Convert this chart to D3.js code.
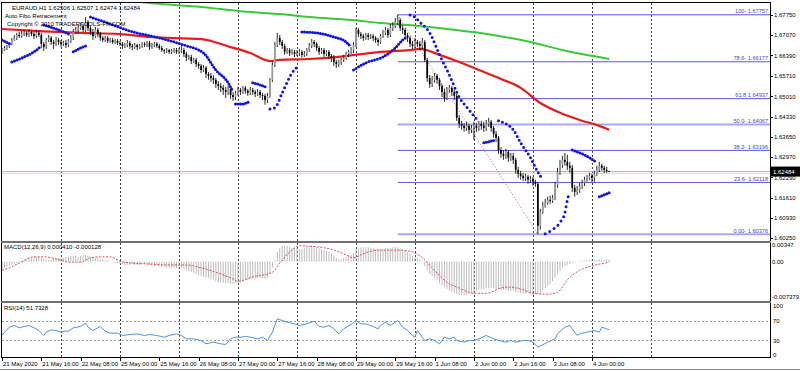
<!DOCTYPE html>
<html><head><meta charset="utf-8">
<script src="https://cdn.jsdelivr.net/npm/d3@7"></script>
<style>
body{margin:0;background:#fff;overflow:hidden}
svg{display:block}
text{font-family:"Liberation Sans",Arial,sans-serif}
</style>
</head><body>
<svg id="c" width="800" height="371"></svg>
<script>
// ---------------- DATA ----------------
const headerLines = ["EURAUD,H1  1.62506 1.62507 1.62474 1.62484", "Auto Fibo Retracement", "Copyright \u00a9 2010 TRADERTOOLS-FX.COM"];
const macdTitle = "MACD(12,26,9) 0.000410 -0.000128";
const rsiTitle = "RSI(14) 51.7328";
const firstOpen = 1.6651;
const closes = [
1.6657,1.6664,1.6667,1.6678,1.6691,1.6698,1.6708,1.6704,
1.6711,1.6715,1.6708,1.6718,1.6711,1.6704,1.6715,1.6708,
1.6678,1.6667,1.6691,1.6698,1.6684,1.6678,1.6691,1.6684,
1.6678,1.6681,1.6674,1.6688,1.6698,1.6718,1.6725,1.6731,
1.6738,1.6725,1.6751,1.6731,1.6718,1.6704,1.6725,1.6711,
1.6698,1.6691,1.6698,1.6688,1.6691,1.6684,1.6688,1.6681,
1.6678,1.6671,1.6674,1.6681,1.6671,1.6667,1.6674,1.6667,
1.6671,1.6678,1.6674,1.6681,1.6667,1.6674,1.6678,1.6671,
1.6664,1.6657,1.6654,1.6657,1.6651,1.6654,1.6657,1.6651,
1.6654,1.6657,1.6644,1.6631,1.6634,1.6620,1.6624,1.6610,
1.6604,1.6590,1.6597,1.6577,1.6570,1.6563,1.6557,1.6543,
1.6536,1.6530,1.6523,1.6516,1.6526,1.6506,1.6499,1.6510,
1.6523,1.6516,1.6530,1.6520,1.6513,1.6523,1.6516,1.6510,
1.6516,1.6506,1.6503,1.6489,1.6503,1.6557,1.6607,1.6674,
1.6698,1.6684,1.6671,1.6651,1.6657,1.6647,1.6651,1.6644,
1.6647,1.6651,1.6641,1.6644,1.6657,1.6671,1.6684,1.6678,
1.6664,1.6651,1.6657,1.6644,1.6651,1.6637,1.6631,1.6617,
1.6610,1.6617,1.6624,1.6631,1.6644,1.6651,1.6657,1.6674,
1.6725,1.6711,1.6704,1.6698,1.6708,1.6701,1.6704,1.6698,
1.6691,1.6684,1.6704,1.6715,1.6725,1.6708,1.6731,1.6738,
1.6751,1.6758,1.6731,1.6725,1.6708,1.6698,1.6678,1.6671,
1.6684,1.6678,1.6671,1.6684,1.6624,1.6563,1.6543,1.6557,
1.6570,1.6557,1.6536,1.6516,1.6496,1.6523,1.6530,1.6516,
1.6503,1.6429,1.6409,1.6402,1.6395,1.6402,1.6389,1.6395,
1.6402,1.6395,1.6409,1.6402,1.6395,1.6409,1.6416,1.6395,
1.6375,1.6362,1.6321,1.6308,1.6301,1.6315,1.6295,1.6301,
1.6288,1.6254,1.6241,1.6234,1.6227,1.6231,1.6221,1.6224,
1.6214,1.6207,1.6066,1.6113,1.6133,1.6143,1.6153,1.6150,
1.6160,1.6204,1.6247,1.6271,1.6288,1.6281,1.6268,1.6261,
1.6194,1.6180,1.6187,1.6200,1.6211,1.6221,1.6227,1.6234,
1.6227,1.6241,1.6254,1.6268,1.6261,1.6254,1.62506,1.62484];
const highs = [
1.6664,1.6671,1.6674,1.6684,1.6698,1.6708,1.6715,1.6718,
1.6721,1.6725,1.6721,1.6728,1.6725,1.6718,1.6725,1.6721,
1.6715,1.6684,1.6698,1.6708,1.6704,1.6691,1.6701,1.6698,
1.6691,1.6688,1.6691,1.6694,1.6708,1.6728,1.6735,1.6741,
1.6748,1.6745,1.6768,1.6758,1.6738,1.6728,1.6735,1.6731,
1.6718,1.6704,1.6704,1.6704,1.6698,1.6698,1.6694,1.6694,
1.6688,1.6684,1.6681,1.6691,1.6688,1.6678,1.6681,1.6678,
1.6678,1.6684,1.6684,1.6688,1.6688,1.6681,1.6684,1.6684,
1.6678,1.6671,1.6661,1.6664,1.6661,1.6661,1.6664,1.6664,
1.6664,1.6678,1.6664,1.6651,1.6641,1.6641,1.6631,1.6631,
1.6617,1.6610,1.6607,1.6604,1.6583,1.6580,1.6573,1.6563,
1.6553,1.6547,1.6540,1.6533,1.6536,1.6533,1.6516,1.6520,
1.6533,1.6530,1.6536,1.6536,1.6526,1.6533,1.6530,1.6523,
1.6526,1.6523,1.6513,1.6510,1.6513,1.6563,1.6617,1.6684,
1.6715,1.6708,1.6691,1.6678,1.6664,1.6664,1.6661,1.6657,
1.6657,1.6661,1.6657,1.6654,1.6664,1.6681,1.6694,1.6691,
1.6684,1.6671,1.6664,1.6664,1.6657,1.6657,1.6644,1.6641,
1.6624,1.6624,1.6631,1.6641,1.6651,1.6657,1.6667,1.6684,
1.6731,1.6731,1.6718,1.6711,1.6715,1.6715,1.6711,1.6711,
1.6704,1.6698,1.6711,1.6725,1.6735,1.6731,1.6745,1.6751,
1.6765,1.67757,1.6765,1.6741,1.6731,1.6715,1.6704,1.6688,
1.6698,1.6691,1.6688,1.6698,1.6691,1.6631,1.6573,1.6570,
1.6580,1.6577,1.6563,1.6543,1.6526,1.6533,1.6540,1.6536,
1.6523,1.6510,1.6439,1.6419,1.6412,1.6416,1.6409,1.6405,
1.6416,1.6412,1.6419,1.6419,1.6416,1.6422,1.6429,1.6422,
1.6402,1.6385,1.6368,1.6331,1.6321,1.6325,1.6321,1.6311,
1.6311,1.6295,1.6264,1.6251,1.6244,1.6241,1.6237,1.6234,
1.6231,1.6221,1.6214,1.6123,1.6147,1.6157,1.6164,1.6167,
1.6170,1.6214,1.6261,1.6288,1.6301,1.6311,1.6305,1.6281,
1.6271,1.6204,1.6200,1.6211,1.6221,1.6231,1.6237,1.6244,
1.6241,1.6251,1.6268,1.6281,1.6274,1.6268,1.6264,1.62507];
const lows = [
1.6644,1.6654,1.6657,1.6664,1.6674,1.6688,1.6691,1.6698,
1.6698,1.6704,1.6701,1.6701,1.6704,1.6694,1.6698,1.6701,
1.6664,1.6654,1.6661,1.6684,1.6674,1.6661,1.6671,1.6674,
1.6667,1.6671,1.6664,1.6667,1.6681,1.6691,1.6711,1.6715,
1.6725,1.6718,1.6718,1.6721,1.6708,1.6691,1.6698,1.6701,
1.6688,1.6684,1.6684,1.6681,1.6681,1.6678,1.6678,1.6674,
1.6671,1.6661,1.6664,1.6667,1.6661,1.6657,1.6661,1.6657,
1.6661,1.6664,1.6667,1.6667,1.6657,1.6661,1.6667,1.6664,
1.6657,1.6651,1.6644,1.6647,1.6644,1.6644,1.6647,1.6644,
1.6644,1.6647,1.6634,1.6620,1.6624,1.6610,1.6614,1.6600,
1.6594,1.6580,1.6583,1.6563,1.6557,1.6550,1.6543,1.6530,
1.6523,1.6516,1.6506,1.6496,1.6506,1.6493,1.6486,1.6489,
1.6503,1.6506,1.6510,1.6510,1.6503,1.6506,1.6506,1.6499,
1.6503,1.6496,1.6489,1.6473,1.6479,1.6496,1.6550,1.6600,
1.6667,1.6674,1.6661,1.6641,1.6644,1.6637,1.6641,1.6634,
1.6637,1.6637,1.6631,1.6634,1.6637,1.6651,1.6664,1.6667,
1.6654,1.6641,1.6644,1.6634,1.6637,1.6627,1.6617,1.6604,
1.6597,1.6600,1.6607,1.6617,1.6624,1.6634,1.6644,1.6647,
1.6667,1.6701,1.6694,1.6688,1.6691,1.6691,1.6694,1.6688,
1.6681,1.6671,1.6678,1.6698,1.6708,1.6698,1.6701,1.6721,
1.6731,1.6741,1.6721,1.6711,1.6698,1.6684,1.6667,1.6661,
1.6664,1.6667,1.6657,1.6661,1.6617,1.6550,1.6530,1.6533,
1.6547,1.6543,1.6523,1.6499,1.6483,1.6489,1.6513,1.6503,
1.6489,1.6419,1.6395,1.6389,1.6382,1.6385,1.6375,1.6378,
1.6355,1.6382,1.6385,1.6389,1.6382,1.6385,1.6399,1.6382,
1.6362,1.6348,1.6308,1.6295,1.6288,1.6291,1.6281,1.6284,
1.6274,1.6241,1.6227,1.6221,1.6217,1.6217,1.6207,1.6211,
1.6200,1.6197,1.60376,1.6053,1.6106,1.6127,1.6137,1.6140,
1.6143,1.6153,1.6194,1.6237,1.6261,1.6268,1.6254,1.6244,
1.6180,1.6164,1.6170,1.6177,1.6190,1.6200,1.6214,1.6221,
1.6214,1.6214,1.6234,1.6247,1.6251,1.6244,1.6244,1.62474];

const maRedIdx = [0,15,32,48,60,81,93,101,109,113,125,137,154,166,170,178,186,194,203,211,219,227,235,243,247];
const maRedVal = [1.6728,1.6721,1.6715,1.6711,1.6701,1.6694,1.6667,1.6647,1.6620,1.6624,1.6627,1.6634,1.6651,1.6657,1.6661,1.6641,1.6617,1.6590,1.6560,1.6530,1.6479,1.6446,1.6422,1.6402,1.6389];
const maGreenIdx = [40,60,81,97,113,125,142,154,174,194,215,228,247];
const maGreenVal = [1.6836,1.6815,1.6802,1.6788,1.6778,1.6768,1.6758,1.6748,1.6735,1.6715,1.6684,1.6657,1.6627];

const sarSegments = [
 [[0,1.6691],[3,1.6678]],
 [[4,1.6617],[9,1.6634],[13,1.6651],[16,1.6671]],
 [[17,1.6741],[22,1.6728],[28,1.6708]],
 [[29,1.6651],[32,1.6664],[35,1.6674]],
 [[36,1.6768],[44,1.6745],[52,1.6721],[64,1.6698],[74,1.6674],[82,1.6647],[87,1.6590],[92,1.6547],[94,1.6516]],
 [[95,1.6476],[98,1.6476],[101,1.6486]],
 [[102,1.6547],[105,1.6540],[108,1.6530]],
 [[109,1.6459],[111,1.6463],[114,1.6513],[118,1.6580],[121,1.6607]],
 [[122,1.6718],[128,1.6715],[135,1.6701],[140,1.6684],[142,1.6667]],
 [[143,1.6590],[148,1.6614],[155,1.6634],[160,1.6664],[163,1.6691],[165,1.6701]],
 [[166,1.6775],[168,1.6768],[170,1.6751],[174,1.6715],[178,1.6641],[182,1.6573],[186,1.6499],[190,1.6456],[194,1.6416]],
 [[196,1.6345],[201,1.6355]],
 [[202,1.6419],[205,1.6409],[208,1.6389],[211,1.6345],[215,1.6295],[218,1.6247],[220,1.6221]],
 [[221,1.6039],[224,1.6053],[227,1.6077],[229,1.6110],[230,1.6153],[231,1.6180]],
 [[232,1.6321],[236,1.6308],[239,1.6295],[242,1.6278]],
 [[243,1.6164],[245,1.6170],[247,1.6177]]
];

const fiboStartIdx = 161, fiboEndIdx = 218;
const fiboPrices = [1.67757,1.66177,1.64937,1.64067,1.63196,1.62118,1.60376];
const fiboLabels = ["100- 1.67757","78.6- 1.66177","61.8 1.64937","50.0- 1.64067","38.2- 1.63196","23.6- 1.62118","0.00- 1.60376"];
const fiboMajor = [false,false,false,true,false,false,true];
const lastPrice = 1.62484;

const priceTicks = [1.67750,1.67070,1.66390,1.65710,1.65010,1.64330,1.63650,1.62970,1.62290,1.61610,1.60930,1.60250];
const priceTickLabels = ["1.67750","1.67070","1.66390","1.65710","1.65010","1.64330","1.63650","1.62970","1.62290","1.61610","1.60930","1.60250"];

const macdHist = [
-0.0015,-0.0013,-0.0011,-0.0009,-0.0007,-0.0005,-0.0003,-0.0001,
0.0001,0.0003,0.0005,0.0008,0.0008,0.0010,0.0010,0.0010,
0.0008,0.0005,0.0005,0.0003,0.0005,0.0008,0.0008,0.0008,
0.0008,0.0008,0.0010,0.0010,0.0012,0.0012,0.0012,0.0010,
0.0012,0.0014,0.0014,0.0012,0.0010,0.0010,0.0008,0.0008,
0.0005,0.0005,0.0003,0.0003,0.0001,-0.0001,-0.0003,-0.0003,
-0.0005,-0.0005,-0.0007,-0.0007,-0.0007,-0.0005,-0.0007,-0.0007,
-0.0007,-0.0005,-0.0005,-0.0007,-0.0007,-0.0009,-0.0009,-0.0009,
-0.0009,-0.0011,-0.0011,-0.0013,-0.0013,-0.0013,-0.0013,-0.0013,
-0.0013,-0.0013,-0.0015,-0.0018,-0.0020,-0.0022,-0.0024,-0.0026,
-0.0028,-0.0030,-0.0032,-0.0034,-0.0034,-0.0036,-0.0038,-0.0041,
-0.0043,-0.0043,-0.0045,-0.0045,-0.0045,-0.0047,-0.0047,-0.0045,
-0.0045,-0.0043,-0.0041,-0.0038,-0.0038,-0.0036,-0.0036,-0.0036,
-0.0034,-0.0034,-0.0034,-0.0036,-0.0034,-0.0026,-0.0013,0.0003,
0.0020,0.0028,0.0033,0.0033,0.0033,0.0030,0.0028,0.0028,
0.0028,0.0026,0.0026,0.0028,0.0030,0.0033,0.0033,0.0033,
0.0030,0.0028,0.0026,0.0024,0.0022,0.0020,0.0016,0.0012,
0.0008,0.0005,0.0005,0.0008,0.0010,0.0012,0.0014,0.0018,
0.0026,0.0028,0.0030,0.0030,0.0030,0.0030,0.0028,0.0028,
0.0026,0.0026,0.0026,0.0026,0.0028,0.0028,0.0028,0.0030,
0.0030,0.0030,0.0028,0.0026,0.0024,0.0020,0.0016,0.0012,
0.0010,0.0008,0.0005,-0.0001,-0.0009,-0.0018,-0.0026,-0.0030,
-0.0034,-0.0038,-0.0045,-0.0049,-0.0053,-0.0057,-0.0061,-0.0064,
-0.0066,-0.0068,-0.0070,-0.0070,-0.0070,-0.0070,-0.0068,-0.0066,
-0.0064,-0.0061,-0.0059,-0.0057,-0.0057,-0.0055,-0.0055,-0.0055,
-0.0055,-0.0057,-0.0057,-0.0059,-0.0059,-0.0059,-0.0061,-0.0061,
-0.0061,-0.0064,-0.0064,-0.0066,-0.0066,-0.0066,-0.0066,-0.0068,
-0.0068,-0.0068,-0.0068,-0.0064,-0.0059,-0.0055,-0.0051,-0.0047,
-0.0041,-0.0034,-0.0026,-0.0020,-0.0013,-0.0009,-0.0007,-0.0005,
-0.0003,-0.0001,0.0000,0.0001,0.0002,0.0002,0.0003,0.0003,
0.0003,0.0004,0.0004,0.0004,0.0004,0.0004,0.0004,0.00041];
const signalIdx = [0,3,7,13,17,24,27,32,36,40,44,48,53,60,67,75,81,88,94,96,102,110,113,117,121,128,135,140,143,146,153,162,167,171,175,181,186,192,197,203,206,211,216,222,226,230,235,240,247];
const signalVal = [-0.0018,-0.0013,-0.0003,0.0010,0.0010,0.0003,-0.0001,-0.0001,0.0008,0.0010,0.0010,0.0001,-0.0003,-0.0005,-0.0007,-0.0007,-0.0013,-0.0024,-0.0036,-0.0041,-0.0032,-0.0022,-0.0003,0.0020,0.0033,0.0031,0.0024,0.0014,0.0008,0.0014,0.0024,0.0024,0.0020,0.0008,-0.0013,-0.0043,-0.0055,-0.0066,-0.0066,-0.0055,-0.0053,-0.0057,-0.0066,-0.0068,-0.0064,-0.0038,-0.0018,-0.0009,-0.00013];
const macdTicks = [0.00347,0,-0.007379];
const macdTickLabels = ["0.00347","0.00","-0.007379"];

const rsiIdx = [0,1,3,5,7,9,11,13,15,17,18,20,22,24,25,27,29,32,34,35,37,39,40,42,44,47,49,52,55,58,60,63,66,68,71,73,75,78,81,83,86,89,91,93,95,97,99,101,104,106,108,110,112,114,116,119,121,124,127,129,131,133,135,137,139,142,144,146,148,151,153,154,156,158,161,163,165,167,168,169,171,172,174,176,178,180,182,184,185,188,190,192,194,197,200,202,205,207,209,212,214,216,218,222,225,226,229,231,232,234,235,238,241,243,244,246,247];
const rsiVal = [39.8,46.6,56.8,60.2,55.4,58.2,60.2,55.4,50.0,39.8,46.6,51.3,50.0,46.6,48.6,48.6,55.4,58.2,64.9,56.8,50.0,55.4,58.2,48.6,44.6,44.6,39.8,41.8,43.2,39.8,41.8,39.8,36.4,39.8,43.2,39.8,33.0,33.0,29.6,22.8,26.2,22.8,21.4,33.0,36.4,36.4,37.8,36.4,33.0,36.4,29.6,46.6,73.8,70.4,67.0,63.6,60.2,63.6,69.0,58.2,56.8,60.2,53.4,43.2,53.4,62.2,70.4,63.6,63.6,58.2,53.4,60.2,67.0,60.2,70.4,56.8,50.0,39.8,36.4,50.0,36.4,29.6,33.0,29.6,22.8,36.4,33.0,36.4,29.6,26.2,29.6,29.6,33.0,39.8,33.0,29.6,26.2,29.6,26.2,29.6,29.6,26.2,16.0,26.2,33.0,43.2,56.8,60.2,53.4,39.8,43.2,46.6,50.0,46.6,56.8,53.4,51.7328];
const rsiLevels = [70,30];
const rsiTicks = [100,70,30,0];

const timeLabelIdx = [0,16,32,48,64,80,96,112,128,144,160,176,192,208,224,240];
const timeLabels = ["21 May 2020","21 May 16:00","22 May 08:00","25 May 00:00","25 May 16:00","26 May 08:00","27 May 00:00","27 May 16:00","28 May 08:00","29 May 00:00","29 May 16:00","1 Jun 08:00","2 Jun 00:00","2 Jun 16:00","3 Jun 08:00","4 Jun 00:00"];
const dayBreakIdx = [24,48,72,96,120,144,168,192,216,240,264];

// ---------------- DRAW ----------------
const svg = d3.select("#c");
const AX = 770; // right axis
const x = d3.scaleLinear().domain([0,264]).range([2, 2 + 264*2.458]);
const yP = d3.scaleLinear().domain([1.6025,1.6775]).range([238,15]);
const yM = d3.scaleLinear().domain([-0.007379,0.00347]).range([297,245]);
const yR = d3.scaleLinear().domain([0,100]).range([355,306]);

svg.append("rect").attr("width",800).attr("height",371).attr("fill","#fff");
const defs = svg.append("defs");
function clip(id,y0,y1){ defs.append("clipPath").attr("id",id).append("rect").attr("x",2).attr("y",y0).attr("width",AX-2).attr("height",y1-y0); }
clip("cm",3,240.5); clip("cd",243,300.5); clip("cr",303,356.5);

// grid (day separators)
svg.append("g").selectAll("line").data(dayBreakIdx).join("line")
  .attr("x1",d=>Math.round(x(d))+0.5).attr("x2",d=>Math.round(x(d))+0.5)
  .attr("y1",3).attr("y2",357).attr("stroke","#444").attr("stroke-width",1)
  .attr("stroke-dasharray","2,2").attr("shape-rendering","crispEdges");

// ---- main panel
const gm = svg.append("g").attr("clip-path","url(#cm)");
// fibo levels
fiboPrices.forEach((p,k)=>{
  gm.append("line").attr("x1",x(fiboStartIdx)).attr("x2",AX).attr("y1",yP(p)).attr("y2",yP(p))
    .attr("stroke", fiboMajor[k] ? "#a8a8f0" : "#5a5ad8").attr("stroke-width", fiboMajor[k]?2:1);
});
// price line
gm.append("line").attr("x1",2).attr("x2",AX).attr("y1",yP(lastPrice)).attr("y2",yP(lastPrice))
  .attr("stroke","#f0a080").attr("stroke-width",1);
gm.append("line").attr("x1",2).attr("x2",AX).attr("y1",yP(lastPrice)+2).attr("y2",yP(lastPrice)+2)
  .attr("stroke","#f8d0c0").attr("stroke-width",1);
// fibo diagonal
gm.append("line").attr("x1",x(fiboStartIdx)).attr("y1",yP(fiboPrices[0]))
  .attr("x2",x(fiboEndIdx)).attr("y2",yP(fiboPrices[6]))
  .attr("stroke","#d06060").attr("stroke-width",1).attr("stroke-dasharray","1,2");
// moving averages
const maLine = d3.line().x(d=>x(d[0])).y(d=>yP(d[1])).curve(d3.curveMonotoneX);
gm.append("path").attr("d",maLine(maGreenIdx.map((d,k)=>[d,maGreenVal[k]])))
  .attr("fill","none").attr("stroke","#3cc83c").attr("stroke-width",2);
gm.append("path").attr("d",maLine(maRedIdx.map((d,k)=>[d,maRedVal[k]])))
  .attr("fill","none").attr("stroke","#e81c1c").attr("stroke-width",2.2);
// candles
const bars = closes.map((c,i)=>({i, o: i===0?firstOpen:closes[i-1], h:highs[i], l:lows[i], c}));
const gc = gm.append("g");
gc.selectAll("line").data(bars).join("line")
  .attr("x1",d=>x(d.i)).attr("x2",d=>x(d.i)).attr("y1",d=>yP(d.h)).attr("y2",d=>yP(d.l))
  .attr("stroke","#111").attr("stroke-width",0.9);
gc.selectAll("rect").data(bars).join("rect")
  .attr("x",d=>x(d.i)-0.85).attr("width",1.7)
  .attr("y",d=>yP(Math.max(d.o,d.c)))
  .attr("height",d=>Math.max(0.8,Math.abs(yP(d.o)-yP(d.c))))
  .attr("fill",d=>d.c>=d.o?"#9a9a9a":"#000");
// parabolic SAR
const sarLine = d3.line().x(d=>x(d[0])).y(d=>yP(d[1])).curve(d3.curveMonotoneX);
sarSegments.forEach(seg=>{
  const p = gm.append("path").attr("d",sarLine(seg)).attr("fill","none")
    .attr("stroke","#1414e0").attr("stroke-width",3).attr("stroke-linecap","round");
  const len = p.node().getTotalLength();
  const n = Math.max(1, seg[seg.length-1][0]-seg[0][0]);
  p.attr("stroke-dasharray","0 "+(len/n).toFixed(3));
});
// fibo labels
fiboPrices.forEach((p,k)=>{
  gm.append("text").attr("x",768).attr("y",yP(p)-1.5).attr("text-anchor","end")
    .attr("font-size",5.6).attr("fill","#4646c8").text(fiboLabels[k]);
});

// ---- MACD panel
const gd = svg.append("g").attr("clip-path","url(#cd)");
gd.selectAll("line").data(macdHist).join("line")
  .attr("x1",(d,i)=>x(i)).attr("x2",(d,i)=>x(i)).attr("y1",yM(0)).attr("y2",d=>yM(d))
  .attr("stroke","#b4b4b4").attr("stroke-width",0.9);
gd.append("path").attr("d",d3.line().x(d=>x(d[0])).y(d=>yM(d[1])).curve(d3.curveMonotoneX)(signalIdx.map((d,k)=>[d,signalVal[k]])))
  .attr("fill","none").attr("stroke","#e05050").attr("stroke-width",1).attr("stroke-dasharray","2,1.5");

// ---- RSI panel
const gr = svg.append("g").attr("clip-path","url(#cr)");
rsiLevels.forEach(v=>{
  gr.append("line").attr("x1",2).attr("x2",AX).attr("y1",Math.round(yR(v))+0.5).attr("y2",Math.round(yR(v))+0.5)
    .attr("stroke","#a0a0a0").attr("stroke-dasharray","2,2").attr("shape-rendering","crispEdges");
});
gr.append("path").attr("d",d3.line().x(d=>x(d[0])).y(d=>yR(d[1]))(rsiIdx.map((d,k)=>[d,rsiVal[k]])))
  .attr("fill","none").attr("stroke","#4f92d8").attr("stroke-width",1);

// ---- frames
const fr = svg.append("g").attr("shape-rendering","crispEdges");
fr.append("line").attr("x1",1.5).attr("x2",1.5).attr("y1",2).attr("y2",357).attr("stroke","#000");
fr.append("line").attr("x1",1).attr("x2",AX+0.5).attr("y1",2.5).attr("y2",2.5).attr("stroke","#000");
fr.append("line").attr("x1",AX+0.5).attr("x2",AX+0.5).attr("y1",2).attr("y2",357.5).attr("stroke","#000");
fr.append("rect").attr("x",1).attr("y",240.5).attr("width",AX).attr("height",2).attr("fill","#707070");
fr.append("rect").attr("x",1).attr("y",300.5).attr("width",AX).attr("height",2).attr("fill","#707070");
fr.append("line").attr("x1",1).attr("x2",AX+0.5).attr("y1",357.5).attr("y2",357.5).attr("stroke","#000");
fr.append("line").attr("x1",0).attr("x2",800).attr("y1",369.5).attr("y2",369.5).attr("stroke","#888");

// ---- axes
const ax = svg.append("g").attr("font-size",6).attr("fill","#000");
priceTicks.forEach((p,k)=>{
  fr.append("line").attr("x1",AX).attr("x2",AX+3).attr("y1",Math.round(yP(p))+0.5).attr("y2",Math.round(yP(p))+0.5).attr("stroke","#000");
  ax.append("text").attr("x",AX+4).attr("y",yP(p)+2.2).text(priceTickLabels[k]);
});
macdTicks.forEach((v,k)=>{
  ax.append("text").attr("x",AX+2).attr("y",yM(v)+2.2).text(macdTickLabels[k]);
});
rsiTicks.forEach(v=>{
  ax.append("text").attr("x",AX+3).attr("y",yR(v)+2.2).text(String(v));
});
// last price box
svg.append("rect").attr("x",AX+1).attr("y",yP(lastPrice)-5).attr("width",29).attr("height",10).attr("fill","#000");
svg.append("text").attr("x",AX+3).attr("y",yP(lastPrice)+2.2).attr("font-size",6).attr("fill","#fff").text("1.62484");
// time axis
timeLabelIdx.forEach((d,k)=>{
  fr.append("line").attr("x1",Math.round(x(d))+0.5).attr("x2",Math.round(x(d))+0.5).attr("y1",357).attr("y2",361).attr("stroke","#000");
  ax.append("text").attr("x",x(d)+1).attr("y",366).text(timeLabels[k]);
});

// ---- titles
const tt = svg.append("g").attr("font-size",6).attr("fill","#000");
tt.append("text").attr("x",12).attr("y",10).text(headerLines[0]);
tt.append("text").attr("x",5).attr("y",18).text(headerLines[1]);
tt.append("text").attr("x",7).attr("y",26).text(headerLines[2]);
tt.append("text").attr("x",4).attr("y",249).text(macdTitle);
tt.append("text").attr("x",4).attr("y",310).text(rsiTitle);
</script>
</body></html>
